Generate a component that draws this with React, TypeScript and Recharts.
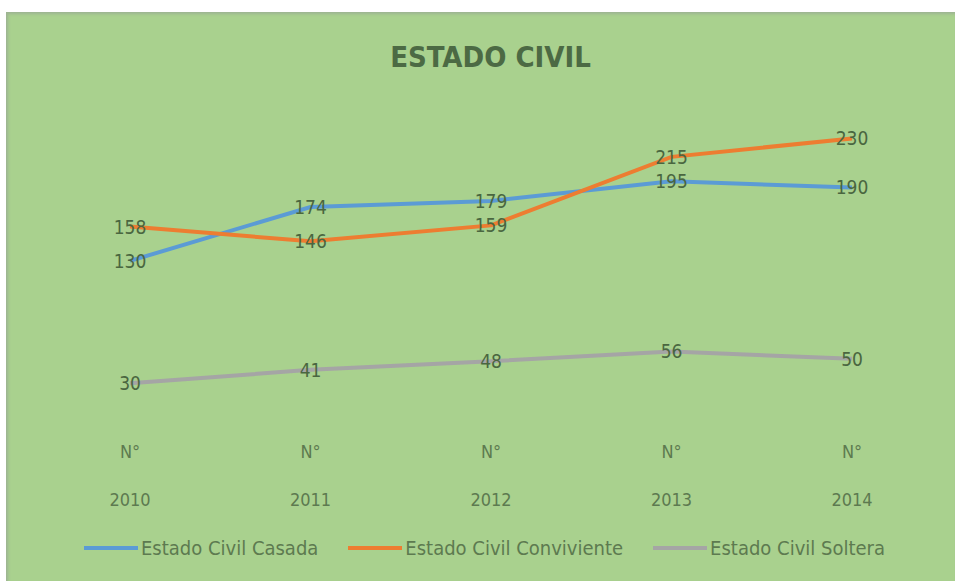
import React from "react";
import { Line, LineChart, XAxis, YAxis } from "recharts";

const years = ["2010", "2011", "2012", "2013", "2014"];
const casada = [130, 174, 179, 195, 190];
const conviviente = [158, 146, 159, 215, 230];
const soltera = [30, 41, 48, 56, 50];

const data = years.map((year, i) => ({
  year,
  casada: casada[i],
  conviviente: conviviente[i],
  soltera: soltera[i],
}));

const FONT = '"Liberation Sans Narrow", "DejaVu Sans Condensed", "Open Sans", sans-serif';
const LABEL_COLOR = "#4a6640";
const TICK_COLOR = "#5d7a50";

const series = [
  { key: "casada", name: "Estado Civil Casada", color: "#5b9bd5" },
  { key: "conviviente", name: "Estado Civil Conviviente", color: "#ed7d31" },
  { key: "soltera", name: "Estado Civil Soltera", color: "#a5a5a5" },
];

function PointLabel(props: any) {
  const { x, y, value } = props;
  return (
    <text
      x={x}
      y={y}
      textAnchor="middle"
      dominantBaseline="central"
      fontSize={19}
      fontFamily={FONT}
      fill={LABEL_COLOR}
    >
      {value}
    </text>
  );
}

function YearTick(props: any) {
  const { x, y, payload } = props;
  return (
    <g>
      <text x={x} y={y + 23} textAnchor="middle" dominantBaseline="central" fontSize={18} fontFamily={FONT} fill={TICK_COLOR}>
        N°
      </text>
      <text x={x} y={y + 71} textAnchor="middle" dominantBaseline="central" fontSize={18} fontFamily={FONT} fill={TICK_COLOR}>
        {payload.value}
      </text>
    </g>
  );
}

export default function App() {
  return (
    <div style={{ position: "absolute", left: 0, top: 0, width: 955, height: 581, background: "#fff" }}>
      <div
        style={{
          position: "absolute",
          left: 6,
          top: 12,
          width: 949,
          height: 569,
          background: "#a9d18e",
          boxShadow: "inset 2px 2px 3px rgba(150,160,150,0.6)",
        }}
      >
        <div
          style={{
            position: "absolute",
            left: 0,
            width: 949,
            top: 28,
            textAlign: "center",
            fontFamily: FONT,
            fontWeight: "bold",
            fontSize: 29,
            color: "#4c6a44",
            paddingLeft: 20,
            boxSizing: "border-box",
          }}
        >
          ESTADO CIVIL
        </div>
        <LineChart width={949} height={569} data={data} margin={{ top: 102, right: 103, left: 124, bottom: 131 }}>
          <XAxis dataKey="year" height={30} axisLine={false} tickLine={false} tick={<YearTick />} interval={0} />
          <YAxis hide domain={[0, 250]} />
          {series.map((s) => (
            <Line
              key={s.key}
              type="linear"
              dataKey={s.key}
              name={s.name}
              stroke={s.color}
              strokeWidth={4}
              dot={false}
              label={<PointLabel />}
              isAnimationActive={false}
            />
          ))}
        </LineChart>
        <div
          style={{
            position: "absolute",
            left: 78,
            top: 522,
            height: 28,
            display: "flex",
            alignItems: "center",
            fontFamily: FONT,
            fontSize: 20,
            color: TICK_COLOR,
            whiteSpace: "nowrap",
          }}
        >
          {series.map((s) => (
            <div key={s.key} style={{ display: "flex", alignItems: "center", marginRight: 30 }}>
              <span style={{ display: "inline-block", width: 54, height: 4, background: s.color, marginRight: 3 }} />
              <span>{s.name}</span>
            </div>
          ))}
        </div>
      </div>
    </div>
  );
}
